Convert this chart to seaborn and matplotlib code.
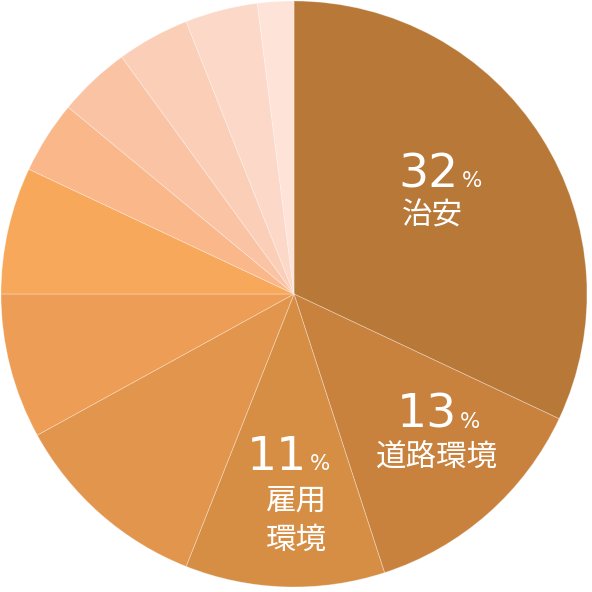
import matplotlib
matplotlib.use("Agg")
import matplotlib.pyplot as plt
import seaborn as sns

sns.set_theme(style="white")
plt.rcParams['font.family'] = ['Noto Sans CJK JP', 'DejaVu Sans']

# 데이터
categories = ["治安", "道路環境", "雇用\n環境", "その他1", "その他2", "その他3",
              "その他4", "その他5", "その他6", "その他7", "その他8"]
shares = [32, 13, 11, 11, 8, 7, 4, 4, 4, 4, 2]
colors = ["#B87838", "#C8823E", "#D68E45", "#E2954D", "#ED9D55", "#F8A85A",
          "#F9B78A", "#FAC3A4", "#FBCEB8", "#FCD8C8", "#FDE3D8"]
labelled = [0, 1, 2]

W = H = 592
CX, CY, R = 294, 294, 293

fig = plt.figure(figsize=(W / 100, H / 100), dpi=100)
ax = fig.add_axes([0, 0, 1, 1])
ax.pie(shares, colors=colors, startangle=90, counterclock=False, radius=1,
       wedgeprops=dict(edgecolor=(1, 1, 1, 0.35), linewidth=0.6))
ax.set_xlim(-CX / R, (W - CX) / R)
ax.set_ylim(-(H - CY) / R, CY / R)
ax.set_aspect('equal')
ax.axis('off')


def px(x, y):
    return (x - CX) / R, (CY - y) / R


# 라벨 위치 (픽셀 기준)
num_pos = [(459, 187), (457, 428), (307, 470)]
name_pos = [(432, 216), (437, 457), (296, 501)]
line_gap = 39

for i, (nx, ny), (tx, ty) in zip(labelled, num_pos, name_pos):
    x, y = px(nx, ny)
    ax.text(x, y, str(shares[i]), ha='right', va='baseline', color='white',
            fontsize=34, family='DejaVu Sans')
    ax.text(x + 3 / R, y, "%", ha='left', va='baseline', color='white',
            fontsize=15.5, family='DejaVu Sans')
    for k, line in enumerate(categories[i].split("\n")):
        x, y = px(tx, ty + k * line_gap)
        ax.text(x, y, line, ha='center', va='center', color='white',
                fontsize=22)

fig.savefig("out.png", dpi=100, facecolor='white')
